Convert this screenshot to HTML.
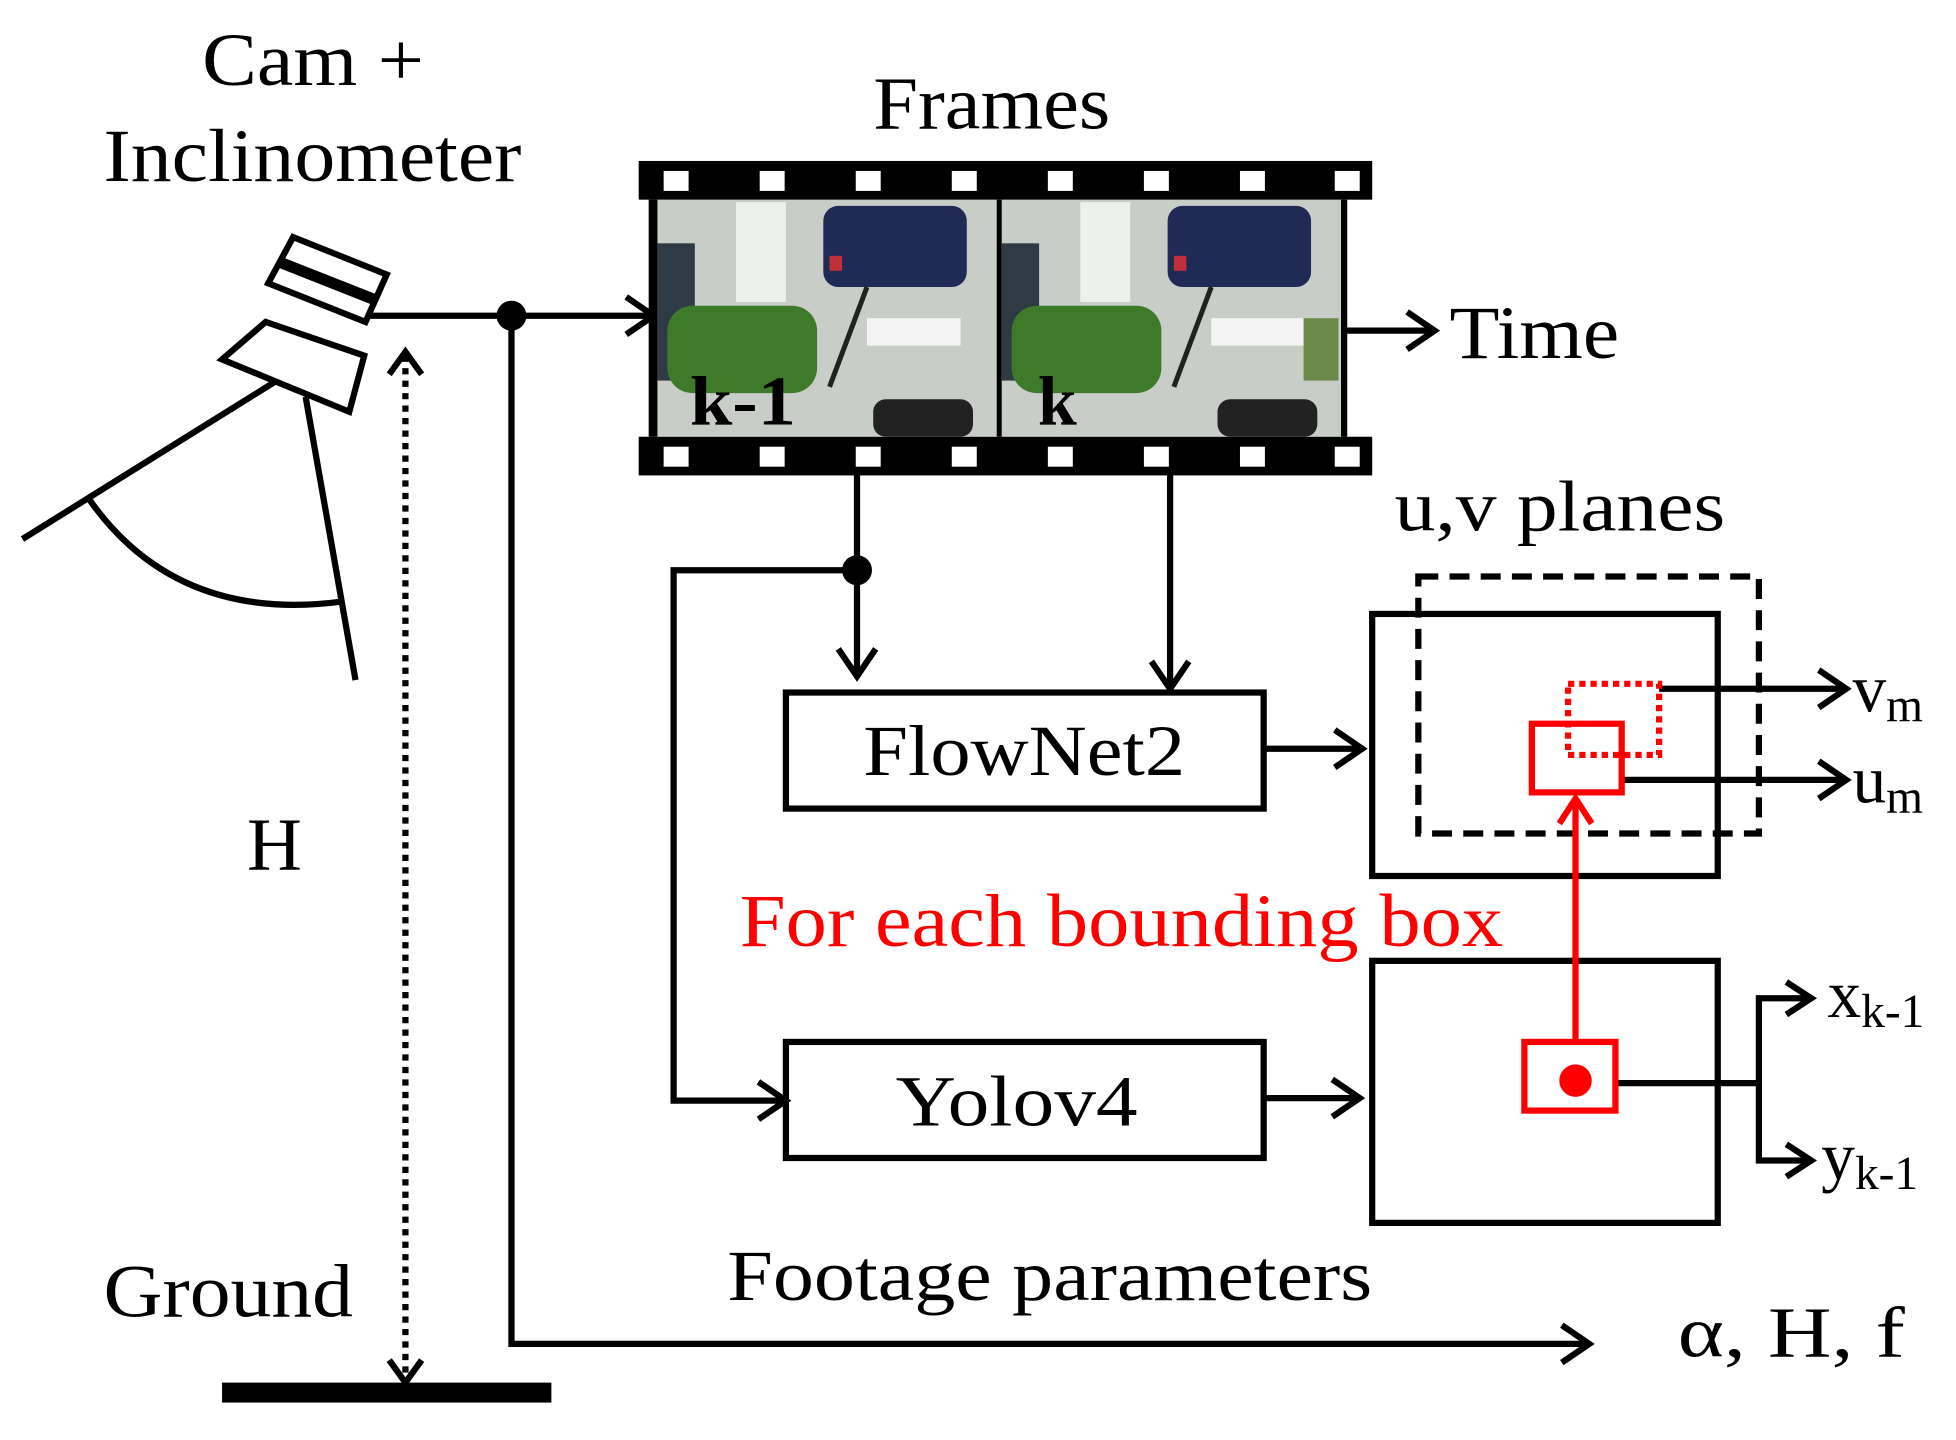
<!DOCTYPE html>
<html><head><meta charset="utf-8"><style>
html,body{margin:0;padding:0;background:#fff;}
svg{display:block;}
text{font-family:"Liberation Serif",serif;}
</style></head><body>
<svg width="1956" height="1440" viewBox="0 0 1568 1154" preserveAspectRatio="none" xmlns="http://www.w3.org/2000/svg">
<rect width="1568" height="1154" fill="#fff"/>
<!-- titles -->
<text x="162" y="68" font-size="60" textLength="178" lengthAdjust="spacingAndGlyphs">Cam +</text>
<text x="83" y="145" font-size="60" textLength="335" lengthAdjust="spacingAndGlyphs">Inclinometer</text>
<text x="700" y="103" font-size="60" textLength="190" lengthAdjust="spacingAndGlyphs">Frames</text>
<text x="1162" y="287" font-size="60" textLength="136" lengthAdjust="spacingAndGlyphs">Time</text>
<text x="1118" y="425" font-size="58" textLength="265" lengthAdjust="spacingAndGlyphs">u,v planes</text>
<text x="198" y="697" font-size="60" textLength="44" lengthAdjust="spacingAndGlyphs">H</text>
<text x="83" y="1055" font-size="60" textLength="200" lengthAdjust="spacingAndGlyphs">Ground</text>
<text x="583" y="1042" font-size="58" textLength="517" lengthAdjust="spacingAndGlyphs">Footage parameters</text>
<text x="1345" y="1087" font-size="58" textLength="182" lengthAdjust="spacingAndGlyphs">α, H, f</text>
<text x="593" y="758" font-size="60" fill="#ff0000" textLength="612" lengthAdjust="spacingAndGlyphs">For each bounding box</text>

<!-- camera -->
<g fill="none" stroke="#000" stroke-width="5">
<polygon points="235,190 310,220 293,258 215,227" fill="#fff"/>
<line x1="224" y1="210" x2="300" y2="240" stroke-width="9"/>
<polygon points="213,258 292,285 280,330 178,288" fill="#fff"/>
<line x1="222" y1="305" x2="18" y2="432"/>
<line x1="245" y1="318" x2="285" y2="545"/>
<path d="M70,398 Q140,500 275,482"/>
</g>
<rect x="178" y="1108" width="264" height="16" fill="#000"/>

<!-- connectors -->
<g fill="none" stroke="#000" stroke-width="5">
<line x1="295" y1="253" x2="522" y2="253"/>
<polyline points="502,238 524,253 502,268"/>
<polyline points="410,253 410,1077 1272,1077"/>
<polyline points="1252,1062 1274,1077 1252,1092"/>
<line x1="325" y1="285" x2="325" y2="1105" stroke-dasharray="5,5"/>
<polyline points="312,300 325,282 338,300"/>
<polyline points="312,1090 325,1108 338,1090"/>
<line x1="1073" y1="265" x2="1148" y2="265"/>
<polyline points="1128,250 1150,265 1128,280"/>
<line x1="687" y1="380" x2="687" y2="540"/>
<polyline points="672,520 687,542 702,520"/>
<line x1="938" y1="380" x2="938" y2="550"/>
<polyline points="923,530 938,552 953,530"/>
<polyline points="687,457 540,457 540,882 628,882"/>
<polyline points="608,867 630,882 608,897"/>
<line x1="1015" y1="600" x2="1090" y2="600"/>
<polyline points="1070,585 1092,600 1070,615"/>
<line x1="1013" y1="880" x2="1088" y2="880"/>
<polyline points="1068,865 1090,880 1068,895"/>
<rect x="630" y="555" width="383" height="93"/>
<rect x="630" y="835" width="383" height="93"/>
<rect x="1100" y="492" width="277" height="210"/>
<rect x="1100" y="770" width="277" height="210"/>
<rect x="1137" y="462" width="273" height="206" stroke-dasharray="16,9"/>
<line x1="1330" y1="552" x2="1478" y2="552"/>
<polyline points="1458,537 1480,552 1458,567"/>
<line x1="1300" y1="625" x2="1478" y2="625"/>
<polyline points="1458,610 1480,625 1458,640"/>
<line x1="1295" y1="868" x2="1410" y2="868"/>
<polyline points="1450,800 1410,800 1410,930 1450,930"/>
<polyline points="1432,787 1452,800 1432,813"/>
<polyline points="1432,917 1452,930 1432,943"/>
</g>
<circle cx="410" cy="253" r="12" fill="#000"/>
<circle cx="687" cy="457" r="12" fill="#000"/>
<text x="692" y="621" font-size="58" textLength="258" lengthAdjust="spacingAndGlyphs">FlowNet2</text>
<text x="718" y="902" font-size="58" textLength="194" lengthAdjust="spacingAndGlyphs">Yolov4</text>
<text x="1485" y="570" font-size="54">v<tspan font-size="38" dy="8">m</tspan></text>
<text x="1485" y="643" font-size="54">u<tspan font-size="38" dy="8">m</tspan></text>
<text x="1465" y="815" font-size="54">x<tspan font-size="38" dy="8">k-1</tspan></text>
<text x="1460" y="945" font-size="54">y<tspan font-size="38" dy="8">k-1</tspan></text>

<!-- red -->
<g fill="none" stroke="#ff0000" stroke-width="5">
<rect x="1228" y="580" width="72" height="55"/>
<rect x="1257" y="548" width="73" height="57" stroke-dasharray="5,4"/>
<rect x="1222" y="835" width="73" height="55"/>
<line x1="1263" y1="835" x2="1263" y2="642"/>
<polyline points="1250,660 1263,640 1276,660"/>
</g>
<circle cx="1263" cy="866" r="13" fill="#ff0000"/>

<!-- film strip -->
<rect x="512" y="129" width="588" height="31" fill="#000"/>
<rect x="512" y="350" width="588" height="31" fill="#000"/>
<rect x="520" y="160" width="560" height="190" fill="#000"/>
<g fill="#fff">
<rect x="532" y="137" width="20" height="16"/><rect x="609" y="137" width="20" height="16"/><rect x="686" y="137" width="20" height="16"/><rect x="763" y="137" width="20" height="16"/>
<rect x="840" y="137" width="20" height="16"/><rect x="917" y="137" width="20" height="16"/><rect x="994" y="137" width="20" height="16"/><rect x="1070" y="137" width="20" height="16"/>
<rect x="532" y="358" width="20" height="16"/><rect x="609" y="358" width="20" height="16"/><rect x="686" y="358" width="20" height="16"/><rect x="763" y="358" width="20" height="16"/>
<rect x="840" y="358" width="20" height="16"/><rect x="917" y="358" width="20" height="16"/><rect x="994" y="358" width="20" height="16"/><rect x="1070" y="358" width="20" height="16"/>
</g>
<g id="fr">
<rect x="527" y="160" width="272" height="190" fill="#c9cdc8"/>
<rect x="590" y="162" width="40" height="80" fill="#eef0ee"/>
<rect x="660" y="165" width="115" height="65" rx="12" fill="#1f2b55"/>
<rect x="665" y="205" width="10" height="12" fill="#c0303a"/>
<rect x="527" y="195" width="30" height="110" fill="#2e3a44"/>
<rect x="535" y="245" width="120" height="70" rx="20" fill="#3e7a2a"/>
<rect x="695" y="255" width="75" height="22" fill="#f4f4f4"/>
<line x1="695" y1="230" x2="665" y2="310" stroke="#222" stroke-width="4"/>
<rect x="700" y="320" width="80" height="30" rx="10" fill="#222"/>
</g>
<use href="#fr" x="276"/>
<rect x="1045" y="255" width="28" height="50" fill="#6a8a4a"/>
<text x="553" y="340" font-size="56" font-weight="bold" textLength="85" lengthAdjust="spacingAndGlyphs">k-1</text>
<text x="832" y="340" font-size="56" font-weight="bold">k</text>
</svg>
</body></html>
